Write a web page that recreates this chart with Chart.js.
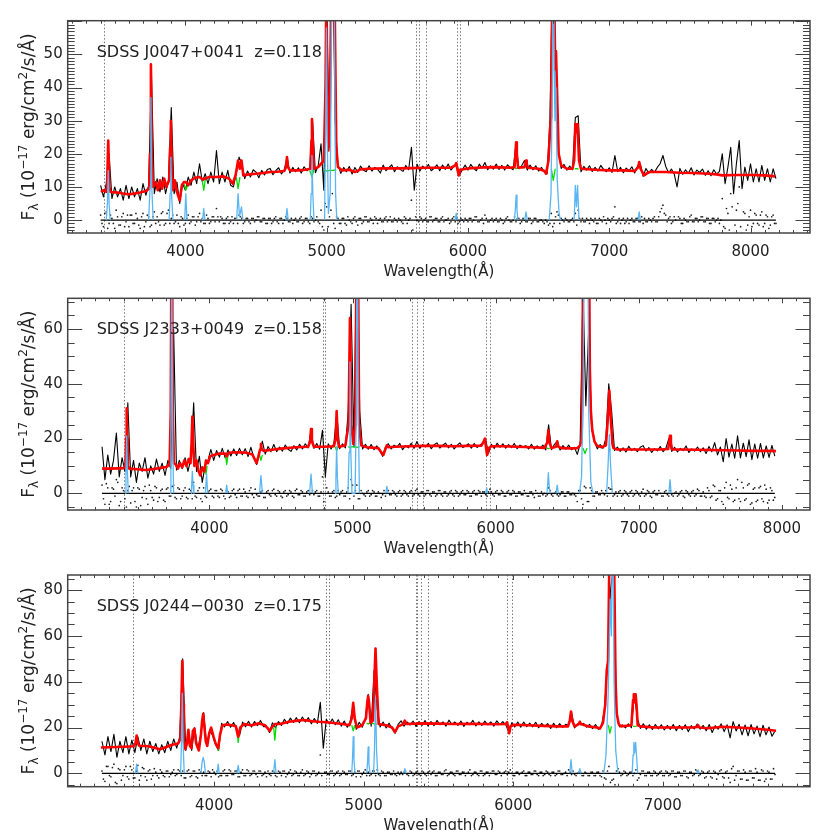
<!DOCTYPE html>
<html>
<head>
<meta charset="utf-8">
<script src="https://cdn.jsdelivr.net/npm/chart.js@4.4.0/dist/chart.umd.min.js"></script>
<style>
  body { margin: 0; background: #fff; width: 830px; height: 830px; position: relative; overflow: hidden; }
  canvas { position: absolute; left: 0; }
</style>
</head>
<body>
<canvas id="spec1" width="830" height="285" style="top:0"></canvas>
<canvas id="spec2" width="830" height="285" style="top:280px"></canvas>
<canvas id="spec3" width="830" height="280" style="top:560px"></canvas>
<script>
// ---------- Panel 1: SDSS J0047+0041 ----------
const p1Label = "SDSS J0047+0041  z=0.118";
const p1XTicks = [4000, 5000, 6000, 7000, 8000];
const p1YTicks = [0, 10, 20, 30, 40, 50];
const p1ObsStart = 3400, p1ObsStep = 20;
const p1Obs = [
  10.5,7,11,20,6.5,10,7,9.5,6,10.5,
  6.5,10,7,9.5,6,11,7.5,10.5,44,8,
  12.5,8.5,13,8,12,34,8,11.5,5,11,
  9,13,10.5,14.5,11,17,11.5,14,11,14.5,
  11.5,21,11,14.5,11.5,15,10.5,10,14,19,
  17,12.5,14.8,13,15.2,14.5,12.8,15,13.6,15.3,
  15.6,13.7,14.9,15.8,13.9,15.2,19,14.2,15.9,14.6,
  15.8,14.2,16.1,14.9,15.7,30,14.3,16.4,23,9,
  65,22,90,30,16.6,14.1,15.9,14.6,16.2,13.9,
  15.9,14.4,16.3,15.1,14.6,16.4,14.8,15.9,15.4,14.2,
  16.6,14.9,15.8,16.7,14.6,16.1,15.3,14.7,16.5,15.2,
  22,9,16.9,14.8,16.3,15.4,16.8,14.9,15.6,16.7,
  14.9,16.6,15.3,16.9,15.1,16.2,17.2,13.6,15.2,16.6,
  15.1,16.8,15.6,14.9,16.9,15.7,17.4,15.2,16.4,15.4,
  16.9,15.3,16.5,15.1,16.7,15.8,15.2,23,15.5,16.4,
  18,15.1,16.6,15.2,16.4,14.8,15.9,14.6,14,30,
  80,50,21,15.6,16.8,15.1,16.3,15.2,31,31.5,
  14.6,16.2,15.1,16.4,14.7,15.9,14.8,16.5,15.3,14.6,
  15.8,14.4,19.5,14.6,15.9,14.3,15.7,14.9,16.1,14.2,
  16.3,17,13.2,15.6,14.1,15.3,14.4,15.9,17,19.5,
  16.2,14.3,15.4,13.9,10,15.6,13.8,15.2,14.1,15.8,
  13.6,15.1,14.4,15.4,13.5,14.9,13.4,15.2,13.9,14.7,
  20,11,16,22,8,17,24,9.5,16,12,
  17,11.5,15.5,11.5,16.5,12,15.5,11.5,15.5,12.5
];
const p1Resid = [
  1.5,-2,2.5,-1,0.5,-2.5,1,-1.5,2,-0.5,
  -2,1.5,-1,0.5,-2.5,2,-0.5,1,-1.5,2.5,
  1,-1.5,2.5,-1,3,0.5,-1,1.5,-2,0.5,
  -1,1.5,-0.5,1,-0.5,2,0.5,-1,0.5,-0.5,
  1,3.5,-0.5,0.5,-1,1,-0.5,-1,0.5,1.5,
  0.5,-0.5,0.5,-1,0.5,0,1,-0.5,0.5,-1,
  0.5,-0.5,1,-1,0.5,0,0.5,-0.5,-1,0.5,
  -0.5,1,-0.5,0.5,-1,0.5,0,-0.5,3,-3,
  4,1,8,-2.5,0.5,-1,0.5,-1.5,0,-1,
  1,-1.5,0.5,-0.5,1,-0.5,0,1,-1,0.5,
  -0.5,1,0,-0.5,0.5,-0.5,0,-1,0.5,0,
  6,-5,0,1,-0.5,0.5,-0.5,1,0,0.5,
  -0.5,1,0,0.5,-0.5,1,0.5,-0.5,0,0.5,
  -0.5,0.5,0,1,-0.5,0.5,1.5,-0.5,0,-0.5,
  0.5,-0.5,0,-0.5,1,-0.5,0,-0.5,0.5,-0.5,
  0,-0.5,0.5,-0.5,0.5,-0.5,0,-1,-0.5,-1,
  -2,1,1.5,0.5,-0.5,0,-0.5,0.5,2,3,
  -0.5,-0.5,0.5,-1,0,0.5,-1,0,1,-1,
  0,0.5,4,-0.5,-1,0.5,-0.5,-1,0.5,-0.5,
  0.5,-0.5,-1,-0.5,0.5,-0.5,1,-0.5,2.5,4.5,
  1.5,0.5,-1,1,-4.5,0.5,-1,0,-0.5,1.5,
  -0.5,0.5,0,1,-0.5,0.5,-1,0.5,0,-1,
  6.5,-2.5,2,8,-5.5,3,10,-4,2,-1.5,
  3,-1,1.5,-1.5,2.5,-1,1,-1.5,1.5,-1
];
// residuals of the half-step pixels (3410, 3430, ...)
const p1ResidB = [
  -1,2,-2.5,1.5,-1,3,-1.5,1,-2,1.5,
  1.5,-1,2,-1.5,1,-2,1.5,-2,1,-1,
  -0.5,2,-1.5,2,-1,1.5,-0.5,-1,1,-1.5,
  0.5,-1,1,-1.5,1,-0.5,-1,1.5,-1,1,
  -0.5,1,1,-1,0.5,-1,1,0.5,-1,1,
  -1,0.5,-0.5,0.5,-0.5,1,-0.5,0.5,-1,0.5,
  -1,0.5,-0.5,0.5,-1,1,-0.5,0.5,0,-0.5,
  0.5,-1,0.5,-0.5,1,-0.5,1,-1,-2,5,
  -2,3,-1,1,-1,0.5,-1,1,-0.5,0.5,
  -0.5,0.5,-1,1,-0.5,0.5,-1,0.5,0,-0.5,
  0.5,-0.5,1,-0.5,0,0.5,-0.5,1,-1,0.5,
  -3,1,-0.5,0.5,0,-0.5,1,-0.5,0.5,-0.5,
  0.5,-0.5,0,-1,0.5,-0.5,-1,0.5,-0.5,0,
  0.5,-0.5,1,-0.5,0,-1,0.5,-0.5,0.5,0,
  -0.5,0.5,-1,0.5,0,-0.5,1,0.5,-1,0.5,
  -0.5,0.5,-1,0.5,-0.5,0,-0.5,0,-1.5,2,
  -1,2.5,-1,0,0.5,-0.5,0,-0.5,-1.5,0.5,
  0.5,-0.5,0,0.5,-0.5,-1,0.5,-0.5,0,0.5,
  -0.5,1,-1,0.5,0,-1,0.5,0,-0.5,0.5,
  -0.5,1,0.5,-0.5,0,0.5,-0.5,1,3.5,2,
  -0.5,1,-0.5,0,1,-1,0.5,-0.5,1,-0.5,
  0.5,-0.5,1,-0.5,0.5,-1,0.5,-0.5,0.5,0,
  -2,3.5,-3,4,-1.5,5,-2,2.5,-3,1,
  -2,2,-1,1.5,-2,1.5,-2.5,1,-1
];
const p1Model = [
  [3402,8.5],[3420,9],[3440,8.5],[3446,11],[3454,24],[3462,10],[3470,8.5],[3520,8.3],[3560,8],[3600,7.8],
  [3640,8],[3680,8.3],[3720,8.8],[3744,9.5],[3750,20],[3756,47],[3762,20],[3770,10],[3790,11.5],[3805,9],
  [3820,12],[3835,9.5],[3850,12.5],[3865,10],[3885,12],[3892,22],[3897,30],[3903,18],[3912,9],[3925,12],
  [3940,8.5],[3960,6],[3975,10.5],[3990,11.5],[4003,11.5],[4020,10.5],[4040,12],[4070,12.8],[4100,13],[4125,12.2],
  [4135,12.5],[4170,13],[4220,13],[4270,13.2],[4310,12.5],[4336,11],[4355,13.5],[4373,18],[4385,15.5],[4397,18],
  [4410,13.5],[4450,13.8],[4500,14],[4550,14.2],[4600,14.5],[4650,14.6],[4700,14.8],[4712,16],[4719,19],[4726,16],
  [4740,15],[4800,15],[4850,15.2],[4885,15.5],[4892,24],[4896,30.5],[4901,24],[4910,15.5],[4940,16],[4980,18],
  [4992,40],[4998,72],[5004,40],[5012,21],[5020,25],[5030,60],[5044,160],[5058,60],[5068,22],[5080,16],
  [5110,15],[5160,15.2],[5200,14.5],[5240,15.3],[5300,15.5],[5400,15.6],[5500,15.6],[5600,15.7],[5700,15.8],[5800,15.8],
  [5880,15.8],[5910,16.5],[5917,17.2],[5927,15],[5935,13.5],[5945,15.2],[6000,15.6],[6100,15.9],[6200,16],[6300,15.8],
  [6330,16],[6336,20],[6341,23.5],[6346,20],[6355,15.8],[6400,16],[6406,17],[6411,18],[6416,17],[6425,15.8],
  [6500,15.5],[6540,14.8],[6553,14],[6570,18],[6582,28],[6588,31],[6595,60],[6604,120],[6613,60],[6618,45],
  [6623,51],[6630,40],[6642,20],[6660,16.5],[6700,15.5],[6740,15.5],[6752,18],[6760,29],[6768,26.5],[6776,29],
  [6786,18],[6800,15.5],[6900,15.2],[7000,15],[7100,15],[7180,14.8],[7205,16],[7212,17.5],[7222,15.5],[7246,13.5],
  [7280,14.5],[7400,14.5],[7500,14.3],[7600,14.2],[7700,14],[7760,13.8],[7800,13.5],[7900,13.6],[8000,13.6],[8100,13.5],
  [8174,13.2]
];
const p1Stellar = [
  [3990,11],[4003,9],[4016,10.5], null,
  [4118,12.3],[4130,9],[4142,12.5], null,
  [4360,13],[4373,9.5],[4386,13], null,
  [4880,15],[4896,13],[4910,15.4], null,
  [4980,15.3],[5000,14.8],[5020,15],[5044,15],[5068,15.2], null,
  [6330,15.8],[6341,15.5],[6352,15.8], null,
  [6590,15.5],[6604,12],[6618,15.5], null,
  [6755,15.5],[6768,15.5],[6782,15.5]
];
const p1Lines = [
  [3440,0],[3448,5],[3454,15],[3460,5],[3468,0], null,
  [3740,0],[3750,10],[3756,37],[3762,10],[3772,0], null,
  [3885,0],[3892,8],[3897,19],[3903,7],[3912,0], null,
  [3995,0],[4003,8],[4011,0], null,
  [4122,0],[4130,3.5],[4138,0], null,
  [4363,0],[4373,8],[4383,1],[4397,4],[4407,0], null,
  [4710,0],[4719,3.5],[4728,0], null,
  [4884,0],[4890,8],[4896,19.5],[4902,8],[4910,0], null,
  [4985,0],[4992,25],[4998,58],[5004,25],[5012,2],[5025,8],[5032,50],[5044,140],[5056,50],[5063,8],[5072,0], null,
  [5910,0],[5917,2],[5924,0], null,
  [6328,0],[6335,3],[6341,7.5],[6347,3],[6354,0], null,
  [6402,0],[6411,2.5],[6420,0], null,
  [6575,0],[6588,8],[6598,45],[6604,150],[6610,45],[6616,30],[6623,40],[6632,12],[6645,2],[6655,0], null,
  [6752,0],[6760,10.5],[6768,4],[6776,10.5],[6786,0], null,
  [7204,0],[7212,2.5],[7220,0]
];
const p1Sky = [3426, 5634, 5657, 5705, 5921, 5947];

// ---------- Panel 2: SDSS J2333+0049 ----------
const p2Label = "SDSS J2333+0049  z=0.158";
const p2XTicks = [4000, 5000, 6000, 7000, 8000];
const p2YTicks = [0, 20, 40, 60];
const p2ObsStart = 3250, p2ObsStep = 20;
const p2Obs = [
  17,5,14,7,12,22,6,13,8,33,
  6,12,4,11,8,13,5.5,10,7,12.5,
  8,11,6.5,12,9,60,8.5,12,9,13,
  8,12.5,33,8,13.5,4,10,12,16,12,
  15.6,13.2,16.4,12.9,15.8,13.6,16.2,13.8,16.4,14.1,
  16.3,13.4,16.8,13.1,10.5,15,19,14.3,17.1,15.2,
  17.8,15.2,16.9,15.4,17.6,16.1,15.3,17.4,15.8,17.9,
  16.2,18.1,16.6,23,16.4,18.2,16.1,23,6,18.1,
  16.2,18.3,29,16.3,18.1,16.6,30,69,17,100,
  30,16.2,17.9,16.1,17.8,15.9,17.3,15.6,13.5,16.9,
  18.1,16.2,17.6,16.8,18.2,15.9,17.4,16.6,18.3,16.4,
  18.9,16.4,17.8,16.9,18.2,16.3,17.7,18.4,16.5,17.6,
  18.3,16.6,17.9,16.2,17.5,18.4,16.7,17.3,18.1,16.5,
  18.2,16.7,17.6,18.4,19.6,14.6,17.9,16.4,18.3,16.8,
  18.1,16.5,17.8,16.7,18.2,16.3,17.6,16.9,17.4,16.2,
  17.9,16.1,17.3,16.4,17.6,15.8,25,15.9,17.8,19,
  15.8,17.4,16.1,17.6,15.9,16.8,14.2,17.9,75,32,
  60,24,19,16.2,17.8,16.4,20,40,30,15.6,
  16.9,15.3,16.6,15.1,17.2,15.6,16.4,15.2,16.8,17.4,
  15.4,16.7,14.9,16.3,15.5,17.1,15.2,16.6,20,15.3,
  16.8,15.1,16.4,15.6,17.3,14.9,16.2,15.4,16.9,15.2,
  16.6,14.5,17.1,15.2,18.5,14,16.9,11.5,20,13.2,
  18,12.8,21,12.9,18.3,13.4,19.5,12.3,18,12.8,
  18.2,12.9,17.3,13.1,17.5,13.6
];
const p2Resid = [
  3,-4,2,-3,1.5,5,-4.5,2,-2,1,
  -3.5,2,-5,1.5,-1.5,2.5,-4,1,-2.5,2,
  -1.5,1.5,-3,2,-1,3,-2,1.5,-1,2,
  -2,1,4,-1.5,2,-3,-1,0.5,1.5,-1.5,
  1,-1.5,1,-2,0.5,-1,1.5,-1.5,1.5,-1,
  0.5,-1.5,2,-1.5,-0.5,-1,1,-1.5,1,-1,
  1.5,-1,0.5,-1.5,1,-0.5,0.5,-1.5,1.5,-0.5,
  0.5,-1,1,0,-0.5,1,-1,6,-11,0.5,
  -1,1,-1,-0.5,1,-1,2,5,-1,3,
  -2,0,-1,1,-0.5,0.5,-1,0,-0.5,-1,
  1,-0.5,0.5,-1,1,-0.5,0.5,-1,1,-0.5,
  1.5,-1,0.5,-0.5,1,-1,0.5,-0.5,1,-1,
  0.5,-0.5,1,-1,0.5,-0.5,1,-0.5,0.5,-1,
  1,-0.5,0.5,0.5,-0.5,0.5,0.5,-1,1,-0.5,
  0.5,-1,1,-0.5,0.5,-1,0.5,-0.5,0,-1,
  0.5,-1.5,0,-1,-0.5,-1,2,-0.5,0,-0.5,
  -0.5,0.5,-1,0.5,-0.5,-0.5,-3,1,-4,2,
  -3,1,-1,0.5,-0.5,0,1,2,1.5,-0.5,
  -1,1,-0.5,0.5,-1,1,-0.5,0.5,-1,1.5,
  -0.5,0.5,-1.5,1,-0.5,0,-1,1,-1,-0.5,
  0,-1,0.5,-1,1,-0.5,0.5,-1,1.5,-1,
  0.5,-1.5,1,-1,2.5,-2,1,-4,4,-2,
  1.5,-2.5,5,-3,2,-2,3.5,-3.5,2,-2.5,
  2.5,-3,1.5,-2.5,1,-1.5
];
const p2ResidB = [
  -2,3.5,-4,2,-1,4,-3,1,-5,2.5,
  1,-3,2,-4.5,1,-2,3,-1.5,2.5,-3,
  1,-2.5,1.5,-1,2.5,-1.5,2,-2,1,-1.5,
  1.5,-2,-1,1,-2,2,-1.5,1,-1,1,
  -1,1.5,-1,1,-1.5,1,-0.5,1,-1,1.5,
  -1,1,-0.5,1.5,-1,0.5,-1.5,0.5,-0.5,1,
  -0.5,1,-1,0.5,-1,1,-1,1,-0.5,1,
  -1,0.5,-0.5,1,0.5,-1,0.5,-3,2,-1,
  0.5,-1.5,1,0.5,-1,0.5,-2,3,1,-2,
  1,-0.5,0.5,-1,1,-1,0.5,-1.5,1,0,
  -0.5,1,-0.5,0.5,-1,1,-0.5,0.5,-1,1,
  -0.5,0.5,-1,1,-0.5,0.5,-1,1,-0.5,0.5,
  -1,0.5,-0.5,1,-1,0.5,-0.5,1,-1,0.5,
  -0.5,1,-1,0.5,-1,1.5,-0.5,0.5,-0.5,1,
  -1,0.5,-0.5,1,-1,0.5,-0.5,1,-1,0.5,
  -0.5,1,-1,0.5,0,-0.5,1,-1,0.5,-1,
  0.5,-1,0.5,-0.5,0,-1,1,-2,2.5,-3,
  2,-1,0.5,-0.5,1,-0.5,-1,1.5,-1,0.5,
  0.5,-1,1,-0.5,0.5,-1,1,-0.5,0.5,-1,
  1,-1,0.5,-0.5,1,-1,0.5,-0.5,1,-1,
  0.5,-0.5,1,-1.5,0.5,-1,1,-0.5,1,-1,
  -1,2,-1.5,3,-2.5,1,-3,2,-1.5,3,
  -3,2,-2,4,-2.5,3,-4,1.5,-3,2,
  -2,3,-3.5,2,-2.5
];
const p2Model = [
  [3250,9],[3300,9],[3360,9.1],[3405,9.2],[3414,11],[3418,20],[3422,31],[3426,20],[3430,10],[3440,9],
  [3500,8.8],[3550,8.5],[3600,8.8],[3650,9.2],[3700,9.6],[3722,10.5],[3730,30],[3737,120],[3744,30],[3752,11],
  [3765,10.5],[3780,9],[3795,11],[3810,9.5],[3825,12],[3840,10],[3855,12.5],[3868,11],[3875,18],[3881,28],
  [3887,18],[3895,10],[3910,12],[3925,8],[3937,6.5],[3950,9.5],[3965,8],[3976,12],[3990,11],[4005,13.5],
  [4030,14],[4070,14.5],[4110,14.5],[4121,13.5],[4135,14.8],[4200,15],[4260,14.8],[4300,14.2],[4330,11],[4345,14],
  [4354,16],[4360,18],[4366,16],[4378,15.5],[4450,16],[4500,16.3],[4600,16.8],[4690,17],[4704,19],[4710,23.5],
  [4716,19],[4730,17],[4800,17],[4870,17.2],[4882,20],[4889,30],[4896,20],[4905,17],[4950,17.5],[4972,25],
  [4982,64],[4992,25],[5005,18],[5020,25],[5033,130],[5046,25],[5060,17.5],[5100,16.8],[5180,16.5],[5200,15],
  [5215,14],[5232,16.5],[5240,17.5],[5250,16.8],[5300,17],[5400,17.2],[5500,17.3],[5600,17.3],[5700,17.2],[5800,17.3],
  [5900,17.4],[5918,19],[5925,20],[5932,17],[5940,14],[5952,16.5],[5970,17.2],[6050,17.2],[6150,17],[6250,16.8],
  [6340,16.6],[6360,18.5],[6368,23],[6376,18.5],[6390,16.5],[6422,17],[6430,19],[6438,17],[6460,16.5],[6520,16.4],
  [6570,16.5],[6590,17.5],[6601,20],[6606,40],[6611,90],[6624,110],[6640,110],[6652,90],[6658,45],[6665,30],
  [6675,23],[6690,19],[6706,17.5],[6740,16.8],[6770,17.5],[6782,26],[6794,37.5],[6806,26],[6816,18],[6822,16.5],
  [6850,16],[6950,16],[7050,16],[7150,16],[7205,16.2],[7212,18.5],[7218,21],[7224,18.5],[7232,16],[7300,16],
  [7400,15.9],[7500,15.8],[7600,15.7],[7700,15.6],[7800,15.5],[7900,15.5],[7958,15.4]
];
const p2Stellar = [
  [3968,10],[3976,7],[3984,10], null,
  [4112,14],[4121,10.5],[4130,14], null,
  [4350,14],[4360,12],[4370,14], null,
  [4879,17],[4889,15.5],[4899,17], null,
  [4970,17],[4982,16.8],[5000,17],[5033,16.8],[5050,17], null,
  [6358,16.5],[6368,16.3],[6378,16.5], null,
  [6610,16.5],[6624,14.5],[6638,16.5], null,
  [6784,16],[6794,16],[6804,16]
];
const p2Lines = [
  [3412,0],[3417,8],[3422,21],[3427,8],[3434,0], null,
  [3725,0],[3731,20],[3737,90],[3743,20],[3750,0], null,
  [3872,0],[3876,3],[3881,8],[3886,3],[3892,0], null,
  [3972,0],[3980,7],[3988,0], null,
  [4114,0],[4121,3],[4128,0], null,
  [4350,0],[4360,6.5],[4370,0], null,
  [4700,0],[4710,7],[4720,0], null,
  [4878,0],[4884,6],[4889,17],[4894,6],[4900,0], null,
  [4968,0],[4976,15],[4982,48],[4988,15],[4996,0],[5018,0],[5026,30],[5033,120],[5040,30],[5048,0], null,
  [5232,0],[5240,2.5],[5248,0], null,
  [5930,0],[5937,2],[5944,0], null,
  [6358,0],[6363,3],[6368,7.5],[6373,3],[6380,0], null,
  [6422,0],[6430,3],[6438,0], null,
  [6585,0],[6600,6],[6612,40],[6624,150],[6632,90],[6640,150],[6650,30],[6665,4],[6680,0], null,
  [6775,0],[6785,10],[6794,21.5],[6803,10],[6815,0], null,
  [7210,0],[7218,5],[7226,0]
];
const p2Sky = [3403, 4792, 4810, 5417, 5448, 5490, 5932, 5960];

// ---------- Panel 3: SDSS J0244-0030 ----------
const p3Label = "SDSS J0244\u22120030  z=0.175";
const p3XTicks = [4000, 5000, 6000, 7000];
const p3YTicks = [0, 20, 40, 60, 80];
const p3ObsStart = 3250, p3ObsStep = 20;
const p3Obs = [
  14,8,16,9.5,17,7,14,9,16,8.5,
  14.5,9,16,10,15,8.5,14,9.5,13,8.5,
  12.5,9,14,10,15,11,16,50,10,17.5,
  10,20,10.5,16.5,26.5,12,19,16.5,12.5,10,
  21.8,20.3,22.6,20.1,22.2,19.8,16.5,22.4,20.3,22.7,
  20.2,22.6,20.8,23.1,20.4,20.5,17.8,22.1,19.9,22.6,
  20.9,23.6,21.7,24.1,22.2,24.3,22.1,24.6,22.4,24.3,
  21.6,23.9,21.8,31,11,23.6,21.5,23.7,21.2,23.4,
  20.6,22.8,20.1,22.6,30,19.2,22.3,20.1,23.5,34.5,
  20.6,45,28,20.2,22.4,19.8,21.9,19.6,17.5,21.4,
  22.9,20.6,22.4,21.1,22.8,20.4,22.6,20.9,23.1,20.7,
  22.6,20.8,23.1,21.2,22.5,20.6,23.2,21.3,22.4,20.9,
  22.8,20.5,22.3,21.2,23.1,20.7,22.5,20.9,22.8,21.1,
  22.5,20.6,22.9,21.3,22.6,21.2,18,22.1,20.2,22.4,
  20.1,22.4,20.4,21.9,20.3,22.3,19.9,21.8,20.4,21.7,
  19.6,21.8,19.9,21.7,20.1,21.4,21,26.5,19.8,21.6,
  21.2,21.8,20.1,21.4,19.5,21.3,19.2,20.6,28,48,
  80,90,27,20.3,21.2,19.8,21.6,19.9,34.5,24,
  19.6,21.6,19.3,21.2,19.1,21.3,19.4,21.2,18.9,20.9,
  19.2,21.3,18.6,20.9,19.1,21.2,18.2,20.8,19.4,21.5,
  19.3,20.9,18.6,21.3,17.8,20.8,19.3,21.6,18.2,21.2,
  15.5,22.6,18.5,21.4,16.8,21.1,16.4,21.3,17.2,20.6,
  16,21,16.8,20.2,16.2,18.5
];
const p3Resid = [
  1,-3.5,3,-1.5,4,-4.5,1.5,-1,3,-2.5,
  1.5,-2,3.5,-1,2,-3,1.5,-1,0.5,-2,
  0.5,-1.5,1,-0.5,1.5,-0.5,1,1,-2,1.5,
  -1,1,-2,0.5,0.5,-1,0.5,1.5,-0.5,-1.5,
  -1,1.5,-1,1,-0.5,1,-1.5,1.5,-1,1,
  -0.5,1,-1.5,1,-0.5,-1.5,-0.5,1,-1,1,
  -1,1,-0.5,1.5,-0.5,0.5,-1,1.5,-0.5,0.5,
  -0.5,1,-0.5,8,-11,0.5,-0.5,1,-0.5,1,
  -0.5,0.5,-0.5,1,-0.5,-1.5,1,-0.5,1.5,0.5,
  -0.5,1,1.5,-1,0.5,-1,0.5,-0.5,-0.5,0.5,
  0.5,0.5,-0.5,1,-1,0.5,-0.5,1,-0.5,0.5,
  -0.5,1,-1,0.5,-0.5,1.5,-0.5,0.5,-1,1,
  -0.5,0.5,0,1.5,-0.5,0.5,-1,1,-0.5,0.5,
  0,1,-0.5,0.5,0,1,0.5,0,-1,0.5,
  0,1,-1,0.5,-0.5,1,-1,0.5,-0.5,0.5,
  -1,0.5,-0.5,1,-0.5,0.5,1.5,-0.5,-0.5,0,
  0.5,-1,0,-1,0.5,-1,0.5,-1.5,-2,1,
  -4,-2.5,1,0.5,-0.5,0.5,-0.5,0.5,0,-3,
  -0.5,1,-1,0.5,-1,0.5,-0.5,1,-1,0.5,
  -0.5,1,-1.5,0.5,-1,1,-2,0.5,-0.5,1,
  -0.5,0.5,-1.5,1,-2,0.5,-0.5,1.5,-2,1,
  -4,3,-1,1,-2.5,0.5,-3,1,-2,0.5,
  -3,1,-2.5,0.5,-2.5,-0.5
];
const p3ResidB = [
  -2.5,3,-1,2.5,-4,2,-3,1.5,-1.5,3,
  -2,1,-3,2.5,-1.5,1,-2.5,2,-1,1.5,
  -1,1,-1.5,0.5,-1,1.5,-1,-2,1,-1.5,
  1,-1.5,1.5,-1,-1,1,-1.5,0.5,1,-1,
  1,-1,1.5,-0.5,1,-1.5,0.5,-1,1.5,-1,
  1,-0.5,1,-1,0.5,1,-1,0.5,-1.5,0.5,
  1,-1.5,0.5,-1,1,-1,0.5,-1,1,-1.5,
  1,-1,0.5,-1,0.5,-0.5,1,-1,0.5,-1,
  1,-0.5,1,-1,0.5,1,-1.5,0.5,-1,-1,
  1,-1,-0.5,1,-1,0.5,-0.5,1,-1,-0.5,
  -0.5,1,-1,0.5,-0.5,1,-1,0.5,-1,1,
  0.5,-1,0.5,-0.5,1,-1,0.5,-0.5,1,-0.5,
  0.5,-1,0.5,-1,0.5,-0.5,1,-1,0.5,-1,
  1,-0.5,1,-1,0.5,-0.5,1.5,-1,0.5,-0.5,
  0.5,-1,0.5,-0.5,1,-0.5,0.5,-1,1,-0.5,
  0.5,-1,1,-0.5,0,-1,0.5,1,-1,0.5,
  -1,0.5,-1,0.5,-1,0.5,-1,1,-2.5,3,
  -3,-5,2,-1,1,-1,0.5,-1,1.5,-2,
  1,-1,0.5,-1,1,-1,0.5,-1,1,-1,
  1,-1.5,0.5,-1,1,-1.5,0.5,-1,1.5,-1,
  1,-2,0.5,-1.5,1,-2.5,1,-1.5,0.5,-2,
  2,-3,1,-2.5,1.5,-3,1,-2,2,-3,
  1.5,-3.5,1,-2.5,2
];
const p3Model = [
  [3243,11.3],[3300,11.4],[3400,11.6],[3462,11.8],[3474,13],[3482,16.5],[3490,13],[3500,12],[3560,11.8],[3600,11.2],
  [3638,10.5],[3680,11.5],[3720,12.5],[3760,13],[3774,15],[3781,30],[3787,49],[3793,30],[3798,14],[3808,10.5],
  [3818,13],[3828,19],[3838,12],[3848,11],[3858,18.5],[3868,19.5],[3880,13],[3898,10],[3912,17],[3920,23],
  [3927,26],[3934,21],[3944,14],[3954,12],[3966,17],[3980,20],[3996,16],[4010,13],[4027,11],[4040,17],
  [4055,21],[4080,21.3],[4120,21],[4145,20.5],[4161,16],[4175,20],[4200,21.5],[4250,21],[4300,21.8],[4340,21],
  [4373,18.5],[4390,20.5],[4406,21.5],[4440,21.5],[4500,22.5],[4560,23],[4600,23.3],[4650,22.8],[4700,22.5],[4750,22.3],
  [4800,22],[4860,21.5],[4905,21],[4920,24],[4930,30.8],[4940,24],[4955,20],[4990,21],[5015,24],[5024,31],
  [5030,33.7],[5036,31],[5046,22],[5062,23],[5070,38],[5079,54.5],[5088,38],[5100,21.5],[5150,21],[5190,20],
  [5209,18],[5230,20.5],[5265,21.5],[5275,23],[5285,21.5],[5400,21.8],[5500,21.7],[5600,21.5],[5700,21.6],[5800,21.5],
  [5900,21.4],[5950,21.5],[5959,22.3],[5966,20],[5973,17.5],[5982,20.5],[6000,21.2],[6100,21],[6200,20.7],[6300,20.5],
  [6366,20.5],[6378,23],[6386,27],[6394,23],[6410,20.5],[6438,21.5],[6445,22.5],[6452,21.5],[6500,20.5],[6560,20],
  [6579,19.5],[6600,22],[6615,30],[6625,45],[6634,49],[6642,90],[6650,150],[6665,150],[6675,90],[6684,40],
  [6692,26],[6705,21.5],[6720,20.5],[6790,21],[6801,32],[6806,34.5],[6812,31],[6818,34.5],[6824,30],[6832,21],
  [6850,20.5],[6950,20],[7100,20],[7200,20],[7228,20.2],[7236,21],[7244,20],[7300,19.7],[7400,20.3],[7500,20],
  [7600,19.6],[7700,19],[7757,18.6]
];
const p3Stellar = [
  [3795,14],[3805,12],[3815,14], null,
  [4018,13],[4027,10],[4036,14], null,
  [4152,19],[4161,13.5],[4170,19], null,
  [4398,20],[4406,14.5],[4414,20.5], null,
  [4920,21],[4930,18.5],[4940,21], null,
  [5020,22],[5030,21.5],[5040,22],[5079,21.5],[5090,21.5], null,
  [6636,21],[6646,17.5],[6656,20.5], null,
  [6800,20.5],[6812,20.5],[6824,20.5]
];
const p3Lines = [
  [3474,0],[3482,4],[3490,0], null,
  [3776,0],[3781,12],[3787,35],[3793,12],[3800,0], null,
  [3912,0],[3920,5],[3927,7],[3934,5],[3942,0], null,
  [4020,0],[4027,4],[4034,0], null,
  [4153,0],[4161,3.5],[4169,0], null,
  [4398,0],[4406,6],[4414,0], null,
  [4920,0],[4925,6],[4930,16],[4935,6],[4942,0], null,
  [5020,0],[5025,4],[5030,11.5],[5035,4],[5042,0], null,
  [5066,0],[5072,10],[5079,33],[5086,10],[5094,0], null,
  [5268,0],[5275,2],[5282,0], null,
  [6378,0],[6386,6],[6394,0], null,
  [6438,0],[6445,2],[6452,0], null,
  [6605,0],[6620,8],[6635,35],[6648,76],[6656,60],[6665,120],[6674,40],[6685,10],[6700,0], null,
  [6795,0],[6801,8],[6806,13.5],[6812,9],[6818,13.5],[6824,8],[6832,0], null,
  [7230,0],[7236,1.5],[7242,0]
];
const p3Sky = [3459, 4747, 4765, 5347, 5354, 5381, 5428, 5959, 5993];

// ---------- helpers ----------
const FONT = '"DejaVu Sans", sans-serif';

function pairsToPoints(pairs) {
    // null entries break the line
    return pairs.map((p, i) => p ? { x: p[0], y: p[1] } : { x: pairs[i - 1][0], y: null });
}
function gridToPoints(start, step, values) {
    return values.map((v, i) => ({ x: start + i * step, y: v }));
}

// IDL-style frame: inward ticks on four sides, dotted sky lines, label and y title
const idlFrame = {
    id: 'idlFrame',
    beforeDatasetsDraw(chart, args, o) {
        const { ctx, chartArea: a, scales: { x } } = chart;
        ctx.save();
        ctx.strokeStyle = '#7a7a7a';
        ctx.lineWidth = 1;
        ctx.setLineDash([1.5, 2]);
        o.sky.forEach((w) => {
            const px = Math.round(x.getPixelForValue(w)) + 0.5;
            ctx.beginPath();
            ctx.moveTo(px, a.top);
            ctx.lineTo(px, a.bottom);
            ctx.stroke();
        });
        ctx.restore();
    },
    afterDatasetsDraw(chart, args, o) {
        const { ctx, chartArea: a, scales: { x, y } } = chart;
        ctx.save();
        ctx.strokeStyle = '#444';
        ctx.lineWidth = 1;
        ctx.beginPath();
        for (let v = Math.ceil(x.min / o.xMinor) * o.xMinor; v <= x.max; v += o.xMinor) {
            const px = Math.round(x.getPixelForValue(v)) + 0.5;
            const len = v % o.xMajor === 0 ? 5 : 3;
            ctx.moveTo(px, a.bottom); ctx.lineTo(px, a.bottom - len);
            ctx.moveTo(px, a.top); ctx.lineTo(px, a.top + len);
        }
        for (let v = Math.ceil(y.min / o.yMinor) * o.yMinor; v <= y.max; v += o.yMinor) {
            const py = Math.round(y.getPixelForValue(v)) + 0.5;
            const len = v % o.yMajor === 0 ? 14.5 : 7;
            ctx.moveTo(a.left, py); ctx.lineTo(a.left + len, py);
            ctx.moveTo(a.right, py); ctx.lineTo(a.right - len, py);
        }
        ctx.stroke();
        ctx.lineWidth = 1.5;
        ctx.strokeRect(a.left, a.top, a.right - a.left, a.bottom - a.top);
        ctx.restore();
    },
    afterDraw(chart, args, o) {
        const { ctx, chartArea: a } = chart;
        ctx.save();
        ctx.fillStyle = '#222';
        ctx.font = '16px ' + FONT;
        ctx.textBaseline = 'middle';
        ctx.fillText(o.label, a.left + 29, a.top + 32);

        // y title with sub/superscripts
        const parts = [['F', 0], ['\u03BB', 1], [' (10', 0], ['\u221217', -1], [' erg/cm', 0], ['2', -1], ['/s/\u00C5)', 0]];
        const big = '17px ' + FONT, small = '12px ' + FONT;
        let total = 0;
        parts.forEach((p) => { ctx.font = p[1] ? small : big; total += ctx.measureText(p[0]).width; });
        ctx.translate(34, (a.top + a.bottom) / 2);
        ctx.rotate(-Math.PI / 2);
        ctx.textBaseline = 'alphabetic';
        let cx = -total / 2;
        parts.forEach((p) => {
            ctx.font = p[1] ? small : big;
            const dy = p[1] === 1 ? 4 : p[1] === -1 ? -7.5 : 0;
            ctx.fillText(p[0], cx, dy);
            cx += ctx.measureText(p[0]).width;
        });
        ctx.restore();
    }
};

function createSpectrumPanel(id, p) {
    const ctx = document.getElementById(id).getContext('2d');
    const lastX = p.obsStart + p.obsStep * (p.obs.length - 1);
    const zeroLine = [{ x: p.obsStart, y: 0 }, { x: lastX, y: 0 }];
    const dotStyle = { showLine: false, pointRadius: 0.85, pointBackgroundColor: '#1a1a1a', pointBorderWidth: 0 };

    const chartData = {
        datasets: [
            { label: 'lines', data: pairsToPoints(p.lines), borderColor: '#5ab6f2', borderWidth: 1.3, order: 0 },
            { label: 'model', data: pairsToPoints(p.model), borderColor: '#ff0000', borderWidth: 2.6, order: 1 },
            { label: 'stellar', data: pairsToPoints(p.stellar), borderColor: '#00dd00', borderWidth: 1.3, order: 2 },
            { label: 'observed', data: gridToPoints(p.obsStart, p.obsStep, p.obs), borderColor: '#000000', borderWidth: 1.1, order: 3 },
            { label: 'zero', data: zeroLine, borderColor: '#000000', borderWidth: 1.2, order: 4 },
            { label: 'residual', data: gridToPoints(p.obsStart, p.obsStep, p.resid), order: 5, ...dotStyle },
            { label: 'residual b', data: gridToPoints(p.obsStart + p.obsStep / 2, p.obsStep, p.residB), order: 6, ...dotStyle },
        ],
    };
    const tickFont = { family: '"DejaVu Sans", sans-serif', size: 15 };
    const chartOptions = {
        responsive: false,
        animation: false,
        devicePixelRatio: 1,
        events: [],
        layout: { padding: { top: p.padTop, bottom: p.padBottom, left: 0, right: 20 } },
        elements: {
            point: { radius: 0 },
            line: { tension: 0, borderJoinStyle: 'round', spanGaps: false },
        },
        plugins: {
            legend: { display: false },
            tooltip: { enabled: false },
            idlFrame: { label: p.label, sky: p.sky, xMinor: 100, xMajor: 1000, yMinor: p.yMinor, yMajor: p.yMajor },
        },
        scales: {
            x: {
                type: 'linear',
                min: p.xMin,
                max: p.xMax,
                grid: { display: false, drawTicks: false },
                border: { display: false },
                afterBuildTicks: (scale) => { scale.ticks = p.xTicks.map((v) => ({ value: v })); },
                ticks: { autoSkip: false, maxRotation: 0, padding: 10, color: '#222', font: tickFont, callback: (v) => String(v) },
                title: { display: true, text: 'Wavelength(\u00C5)', color: '#222', font: tickFont, padding: 0 },
                afterFit: (scale) => { scale.height = 48; },
            },
            y: {
                min: p.yMin,
                max: p.yMax,
                grid: { display: false, drawTicks: false },
                border: { display: false },
                afterBuildTicks: (scale) => { scale.ticks = p.yTicks.map((v) => ({ value: v })); },
                ticks: { autoSkip: false, padding: 5, color: '#222', font: tickFont, callback: (v) => String(v) },
                afterFit: (scale) => { scale.width = 67.7; },
            },
        },
    };

    new Chart(ctx, {
        type: 'line',
        data: chartData,
        options: chartOptions,
        plugins: [idlFrame],
    });
}

createSpectrumPanel('spec1', {
    label: p1Label, xTicks: p1XTicks, yTicks: p1YTicks,
    obsStart: p1ObsStart, obsStep: p1ObsStep, obs: p1Obs, resid: p1Resid, residB: p1ResidB,
    model: p1Model, stellar: p1Stellar, lines: p1Lines, sky: p1Sky,
    xMin: 3167, xMax: 8421, yMin: -3.9, yMax: 60.2, yMajor: 10, yMinor: 1, padTop: 20.7, padBottom: 4,
});
createSpectrumPanel('spec2', {
    label: p2Label, xTicks: p2XTicks, yTicks: p2YTicks,
    obsStart: p2ObsStart, obsStep: p2ObsStep, obs: p2Obs, resid: p2Resid, residB: p2ResidB,
    model: p2Model, stellar: p2Stellar, lines: p2Lines, sky: p2Sky,
    xMin: 3010, xMax: 8196, yMin: -6.1, yMax: 71.2, yMajor: 20, yMinor: 5, padTop: 18.3, padBottom: 7,
});
createSpectrumPanel('spec3', {
    label: p3Label, xTicks: p3XTicks, yTicks: p3YTicks,
    obsStart: p3ObsStart, obsStep: p3ObsStep, obs: p3Obs, resid: p3Resid, residB: p3ResidB,
    model: p3Model, stellar: p3Stellar, lines: p3Lines, sky: p3Sky,
    xMin: 3021, xMax: 7984, yMin: -5.85, yMax: 86.6, yMajor: 20, yMinor: 5, padTop: 15, padBottom: 5.3,
});
</script>
</body>
</html>
